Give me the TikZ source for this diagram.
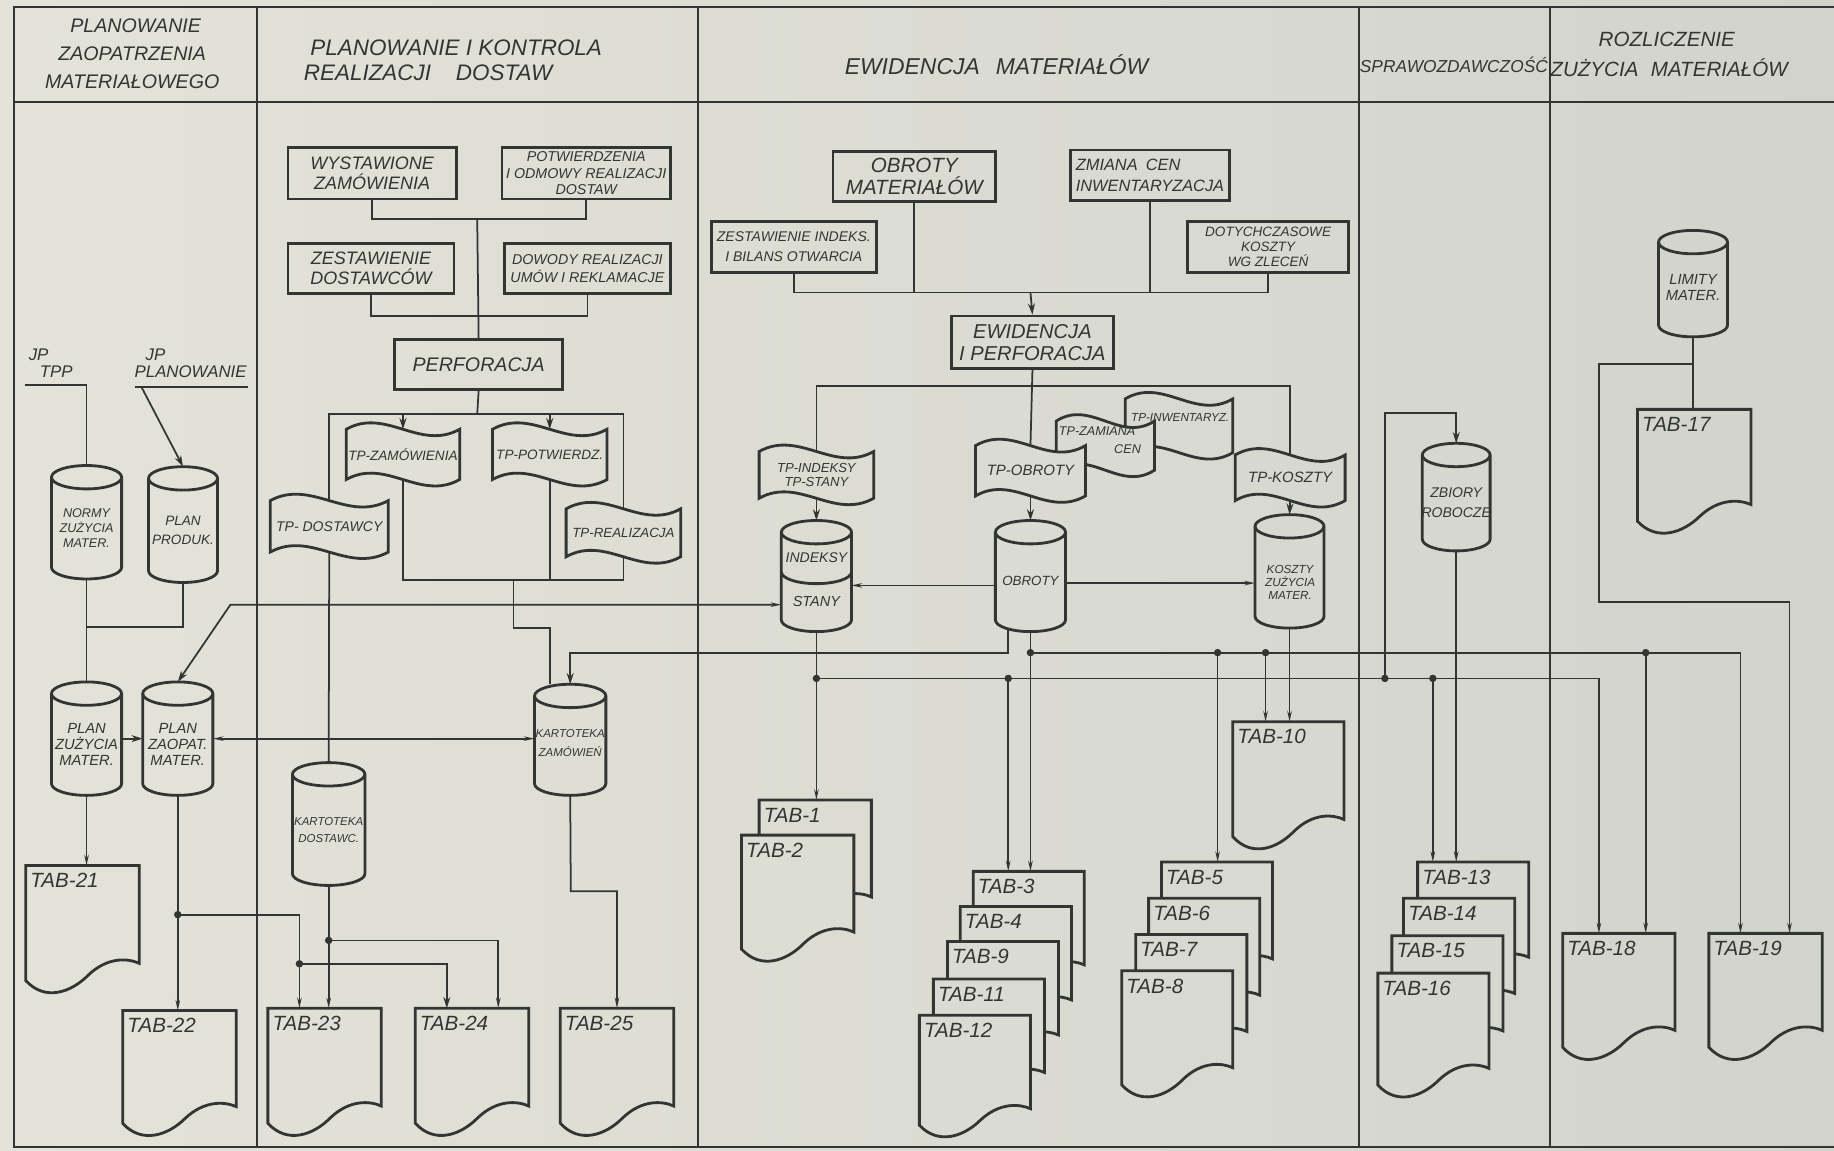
\documentclass[tikz,border=0pt]{standalone}
\usepackage{fontspec}
\setmainfont{Liberation Sans}
\usetikzlibrary{arrows.meta,calc}
\definecolor{ink}{RGB}{50,54,51}
\definecolor{bgL}{RGB}{228,227,217}
\definecolor{bgR}{RGB}{210,212,204}
\newcommand\tfnt[2]{\fontsize{#1pt}{#2pt}\selectfont\itshape}
\tikzset{
  cline/.style={draw=ink, line width=0.75pt},
  shapeline/.style={draw=ink, line width=1.2pt},
  borderline/.style={draw=ink, line width=0.9pt},
  bigarr/.style={-{Stealth[length=4.8pt,width=3pt]}},
  stubarr/.style={-{Stealth[length=4.5pt,width=1.9pt]}},
  bothstub/.style={{Stealth[length=4.5pt,width=1.9pt]}-{Stealth[length=4.5pt,width=1.9pt]}},
  stubbig/.style={{Stealth[length=4.5pt,width=1.9pt]}-{Stealth[length=4.8pt,width=3pt]}},
  jdot/.style={circle, fill=ink, draw=none, inner sep=0pt, minimum size=3.2pt},
  txt/.style={inner sep=0pt, outer sep=0pt, text=ink, align=center},
  procbox/.style={shapeline, rectangle, inner sep=0pt, anchor=north west, text=ink, align=center},
  boxsize/.style 2 args={minimum width=#1*0.5pt, minimum height=#2*0.5pt},
}
% cylinder: name, x, y, w, h
\newcommand{\cyl}[5]{%
  \pgfmathtruncatemacro\myPct{(#2+#4/2)/15.68}%
  \node[inner sep=0pt, outer sep=0pt, minimum width=#4*0.5pt, minimum height=#5*0.5pt, anchor=north west] (#1) at (#2,#3) {};%
  \draw[shapeline, fill=bgR!\myPct!bgL] (#2,{#3+10}) -- (#2,{#3+#5-10})
     arc[start angle=180, end angle=360, x radius=#4*0.25pt, y radius=5pt]
     -- ({#2+#4},{#3+10})
     arc[start angle=0, end angle=180, x radius=#4*0.25pt, y radius=5pt] -- cycle;%
  \draw[shapeline] (#2,{#3+10}) arc[start angle=180, end angle=360, x radius=#4*0.25pt, y radius=5pt];%
}
% punched tape: name, x, y, w, h
\newcommand{\tape}[5]{%
  \pgfmathtruncatemacro\myPct{(#2+#4/2)/15.68}%
  \node[inner sep=0pt, outer sep=0pt, minimum width=#4*0.5pt, minimum height=#5*0.5pt, anchor=north west] (#1) at (#2,#3) {};%
  \draw[shapeline, fill=bgR!\myPct!bgL] (#2,#3)
     .. controls ({#2+0.35*#4},{#3-19}) and ({#2+0.65*#4},{#3+19}) .. ({#2+#4},#3)
     -- ({#2+#4},{#3+#5})
     .. controls ({#2+0.65*#4},{#3+#5+19}) and ({#2+0.35*#4},{#3+#5-19}) .. (#2,{#3+#5}) -- cycle;%
}
% document: name, x, y, w, h, label
\newcommand{\docu}[6]{%
  \pgfmathtruncatemacro\myPct{(#2+#4/2)/15.68}%
  \node[inner sep=0pt, outer sep=0pt, minimum width=#4*0.5pt, minimum height=#5*0.37pt, anchor=north west] (#1) at (#2,#3) {};%
  \draw[shapeline, fill=bgR!\myPct!bgL] (#2,#3) -- ({#2+#4},#3) -- ({#2+#4},{#3+0.74*#5})
     .. controls ({#2+0.9*#4},{#3+0.70*#5}) and ({#2+0.72*#4},{#3+0.69*#5}) .. ({#2+0.55*#4},{#3+0.83*#5})
     .. controls ({#2+0.40*#4},{#3+0.96*#5}) and ({#2+0.17*#4},{#3+1.03*#5}) .. (#2,{#3+0.87*#5}) -- cycle;%
  \node[txt, anchor=west, font={\tfnt{8.8}{9}}] (#1l) at ({#2+4},{#3+13}) {#6};%
}
\begin{document}
\begin{tikzpicture}[x=0.5pt,y=-0.5pt]
\useasboundingbox (0,0) rectangle (1568,984);
\shade[left color=bgL, right color=bgR] (0,0) rectangle (1568,984);
% frame
\draw[borderline] (1568,6) -- (12,6) -- (12,981) -- (1568,981);
\draw[borderline] (12,87) -- (1568,87);
\draw[borderline] (220,6) -- (220,981);
\draw[borderline] (597,6) -- (597,981);
\draw[borderline] (1162,6) -- (1162,981);
\draw[borderline] (1325,6) -- (1325,981);
% headers
\node[txt, font={\tfnt{8.4}{9}}] (h1a) at (116,22) {PLANOWANIE};
\node[txt, font={\tfnt{8.4}{9}}] (h1b) at (113,46) {ZAOPATRZENIA};
\node[txt, font={\tfnt{8.4}{9}}] (h1c) at (113,70) {MATERIAŁOWEGO};
\node[txt, font={\tfnt{9.6}{10}}] (h2a) at (390,41) {PLANOWANIE I KONTROLA};
\node[txt, font={\tfnt{9.6}{10}}] (h2b) at (366,62) {REALIZACJI\hspace{1.1em}DOSTAW};
\node[txt, font={\tfnt{9.8}{10}}] (h3) at (852,55) {EWIDENCJA\hspace{0.7em}MATERIAŁÓW};
\node[txt, font={\tfnt{7.4}{8}}] (h4) at (1243,55) {SPRAWOZDAWCZOŚĆ};
\node[txt, font={\tfnt{8.8}{9}}] (h5a) at (1425,34) {ROZLICZENIE};
\node[txt, font={\tfnt{8.8}{9}}] (h5b) at (1427,58) {ZUŻYCIA\hspace{0.6em}MATERIAŁÓW};

% ---------- column 1 ----------
\node[txt, font={\tfnt{7.2}{8}}] (jp1) at (33,303) {JP};
\node[txt, font={\tfnt{7.2}{8}}] (tpp) at (48,318) {TPP};
\node[txt, font={\tfnt{7.2}{8}}] (jp2) at (133,303) {JP};
\node[txt, font={\tfnt{7.2}{8}}] (plw) at (163,318) {PLANOWANIE};
\coordinate (jpA) at (21,329);
\coordinate (jpB) at (212,331);
\coordinate (jpU) at (115,331);
\coordinate (jpC) at (121,331);
\cyl{normy}{44}{398}{60}{97}
\cyl{pprod}{127}{399}{59}{99}
\cyl{pzu}{44}{583}{60}{97}
\cyl{pzap}{122}{583}{60}{97}
\node[txt, font={\tfnt{5.4}{6.4}}] (normyl) at ($(normy)+(0,5)$) {NORMY\\ZUŻYCIA\\MATER.};
\node[txt, font={\tfnt{5.8}{8}}] (pprodl) at ($(pprod)+(0,5)$) {PLAN\\PRODUK.};
\node[txt, font={\tfnt{6.3}{6.8}}] (pzul) at ($(pzu)+(0,5)$) {PLAN\\ZUŻYCIA\\MATER.};
\node[txt, font={\tfnt{6.3}{6.8}}] (pzapl) at ($(pzap)+(0,5)$) {PLAN\\ZAOPAT.\\MATER.};
\docu{t21}{22}{740}{97}{113}{TAB-21}
\docu{t22}{105}{864}{97}{111}{TAB-22}

% ---------- column 2 ----------
\node[procbox, boxsize={144}{44}, font={\tfnt{7.7}{8.6}}] (wz) at (245,125) {WYSTAWIONE\\ZAMÓWIENIA};
\node[procbox, boxsize={144}{44}, font={\tfnt{6.1}{7}}] (pot) at (428,125) {POTWIERDZENIA\\I ODMOWY REALIZACJI\\DOSTAW};
\node[procbox, boxsize={142}{43}, font={\tfnt{7.7}{8.6}}] (zd) at (245,207) {ZESTAWIENIE\\DOSTAWCÓW};
\node[procbox, boxsize={142}{43}, font={\tfnt{6.1}{8}}] (dow) at (430,207) {DOWODY REALIZACJI\\UMÓW I REKLAMACJE};
\node[procbox, boxsize={144}{43}, font={\tfnt{8.4}{9}}] (perf) at (336,289) {PERFORACJA};
\tape{tzam}{296}{367}{97}{43}
\tape{tpot}{421}{367}{98}{43}
\tape{tdos}{231}{428}{101}{44}
\tape{treal}{484}{435}{98}{41}
\node[txt, font={\tfnt{5.8}{6}}] (tzaml) at (tzam) {TP-ZAMÓWIENIA};
\node[txt, font={\tfnt{5.8}{6}}] (tpotl) at (tpot) {TP-POTWIERDZ.};
\node[txt, font={\tfnt{6}{6}}] (tdosl) at (tdos) {TP- DOSTAWCY};
\node[txt, font={\tfnt{5.7}{6}}] (treall) at (treal) {TP-REALIZACJA};
\cyl{kdos}{250}{652}{62}{105}
\cyl{kzam}{457}{585}{61}{95}
\node[txt, font={\tfnt{4.9}{7.5}}] (kdosl) at ($(kdos)+(0,5)$) {KARTOTEKA\\DOSTAWC.};
\node[txt, font={\tfnt{4.9}{8}}] (kzaml) at ($(kzam)+(0,3)$) {KARTOTEKA\\ZAMÓWIEŃ};
\docu{t23}{229}{862}{97}{113}{TAB-23}
\docu{t24}{355}{862}{97}{113}{TAB-24}
\docu{t25}{479}{862}{97}{113}{TAB-25}

% ---------- column 3 ----------
\node[procbox, boxsize={139}{43}, font={\tfnt{8.8}{9.4}}] (obm) at (711,128) {OBROTY\\MATERIAŁÓW};
\node[procbox, boxsize={136}{43}, font={\tfnt{7}{9}}, align=left] (zc) at (914,127) {ZMIANA\hspace{0.5em}CEN\\INWENTARYZACJA};
\node[procbox, boxsize={141}{44}, font={\tfnt{6}{8.5}}] (zi) at (607,188) {ZESTAWIENIE INDEKS.\\I BILANS OTWARCIA};
\node[procbox, boxsize={138}{44}, font={\tfnt{5.8}{6.3}}] (dotk) at (1014,188) {DOTYCHCZASOWE\\KOSZTY\\WG ZLECEŃ};
\node[procbox, boxsize={139}{45}, font={\tfnt{8.6}{9.6}}] (ewid) at (812,269) {EWIDENCJA\\I PERFORACJA};
\tape{tinw}{962}{341}{92}{46}
\tape{tzc}{903}{360}{84}{42}
\tape{tobr}{834}{381}{94}{43}
\tape{tkos}{1056}{389}{94}{39}
\tape{tind}{649}{386}{98}{40}
\node[txt, font={\tfnt{5}{6}}] (tinwl) at (1009,357) {TP-INWENTARYZ.};
\node[txt, font={\tfnt{5.4}{6}}] (tzcl) at (938,369) {TP-ZAMIANA};
\node[txt, font={\tfnt{5.4}{6}}] (tzcl2) at (964,384) {CEN};
\node[txt, font={\tfnt{6.4}{6.5}}] (tobrl) at (tobr) {TP-OBROTY};
\node[txt, font={\tfnt{6.4}{6.5}}] (tkosl) at (tkos) {TP-KOSZTY};
\node[txt, font={\tfnt{5.6}{6}}] (tindl) at (tind) {TP-INDEKSY\\TP-STANY};
\cyl{ind}{668}{445}{60}{95}
\draw[shapeline] (668,489) arc[start angle=180, end angle=360, x radius=15pt, y radius=5pt];
\cyl{obr}{851}{445}{60}{95}
\cyl{kosz}{1073}{440}{59}{97}
\node[txt, font={\tfnt{6}{6}}] (indl1) at (698,477) {INDEKSY};
\node[txt, font={\tfnt{6.2}{6}}] (indl2) at (698,514) {STANY};
\node[txt, font={\tfnt{5.7}{6}}] (obrl) at (881,497) {OBROTY};
\node[txt, font={\tfnt{5}{5.6}}] (koszl) at (1103,498) {KOSZTY\\ZUŻYCIA\\MATER.};
\docu{t1}{649}{684}{96}{112}{TAB-1}
\docu{t2}{634}{714}{96}{112}{TAB-2}
\docu{t10}{1054}{617}{95}{113}{TAB-10}
\docu{t3}{832}{745}{95}{108}{TAB-3}
\docu{t4}{821}{775}{95}{108}{TAB-4}
\docu{t9}{810}{805}{95}{108}{TAB-9}
\docu{t11}{798}{837}{95}{108}{TAB-11}
\docu{t12}{786}{868}{95}{108}{TAB-12}
\docu{t5}{993}{737}{95}{112}{TAB-5}
\docu{t6}{982}{768}{95}{112}{TAB-6}
\docu{t7}{971}{799}{95}{112}{TAB-7}
\docu{t8}{959}{830}{95}{112}{TAB-8}

% ---------- column 4 ----------
\cyl{zb}{1216}{379}{58}{92}
\node[txt, font={\tfnt{6}{8.5}}] (zbl) at ($(zb)+(0,5)$) {ZBIORY\\ROBOCZE};
\docu{t13}{1212}{737}{95}{110}{TAB-13}
\docu{t14}{1200}{768}{95}{110}{TAB-14}
\docu{t15}{1190}{800}{95}{110}{TAB-15}
\docu{t16}{1178}{832}{95}{110}{TAB-16}

% ---------- column 5 ----------
\cyl{lim}{1418}{197}{59}{91}
\node[txt, font={\tfnt{6.3}{7}}] (liml) at ($(lim)+(0,3)$) {LIMITY\\MATER.};
\docu{t17}{1400}{350}{97}{110}{TAB-17}
\docu{t18}{1336}{798}{96}{112}{TAB-18}
\docu{t19}{1461}{798}{97}{112}{TAB-19}

% ================= connectors =================
% column 1
\draw[cline] (jpA) -| (normy.north);
\draw[cline] (jpB) -- (jpU);
\draw[cline, bigarr] (jpC) -- (pprod.north);
\coordinate (nj) at (74,536);
\draw[cline] (normy.south) -- (nj) -- (pzu.north);
\draw[cline] (pprod.south) |- (nj);
\draw[cline, bigarr] (pzu.east) -- (pzap.west);
\draw[cline, bothstub] (pzap.east) -- (pzap.east -| kzam.west);
\draw[cline, stubarr] (pzu.south) -- (pzu.south |- t21.north);
\draw[cline, stubarr] (pzap.south) -- (pzap.south |- t22.north);
\coordinate (j22) at (152,782);
\node[jdot] (d22) at (j22) {};
\draw[cline, stubarr] (j22) -| ($(t23.north west)+(27,0)$);
\coordinate (j23) at (256,824);
\node[jdot] (d23) at (j23) {};
\draw[cline, bigarr] (j23) -| ($(t24.north west)+(27,0)$);
\draw[cline, stubarr] (kdos.south) -- (kdos.south |- t23.north);
\coordinate (j23b) at (281,804);
\node[jdot] (d23b) at (j23b) {};
\draw[cline, stubarr] (j23b) -| ($(t24.north west)+(71,0)$);
\coordinate (k25) at (488,762);
\draw[cline, stubarr] (kzam.south) -- (k25) -| (t25.north);

% column 2
\coordinate (b1) at (408,187);
\coordinate (b2) at (408,270);
\coordinate (b3) at (408,354);
\coordinate (b4) at (439,496);
\coordinate (kzA) at (470,537);
\draw[cline] (wz.south) |- (b1) -| (pot.south);
\draw[cline] (b1) -- (perf.north);
\draw[cline] (zd.south) |- (b2) -| (dow.south);
\draw[cline] (perf.south) -- (b3);
\draw[cline] (tdos.north) |- (b3) -| (treal.north);
\draw[cline, bigarr] (tzam.north |- b3) -- (tzam.north);
\draw[cline, bigarr] (tpot.north |- b3) -- (tpot.north);
\draw[cline] (tzam.south) |- (b4) -| (treal.south);
\draw[cline] (tpot.south) -- (tpot.south |- b4);
\draw[cline] (b4) |- (kzA) -- (kzA |- kzam.north);
\draw[cline] (tdos.south) -- (kdos.north);

% column 3 top
\coordinate (tb) at (881,250);
\draw[cline] (zi.south) |- (tb) -| (dotk.south);
\draw[cline] (obm.south) -- (obm.south |- tb);
\draw[cline] (zc.south) -- (zc.south |- tb);
\draw[cline, bigarr] (tb) -- (ewid.north);
\coordinate (eb) at (881,330);
\draw[cline] (ewid.south) -- (tobr.north);
\draw[cline] (tind.north) |- (eb) -| (tkos.north);
\draw[cline, bigarr] (tind.south) -- (ind.north);
\draw[cline, bigarr] (tobr.south) -- (obr.north);
\draw[cline, bigarr] (tkos.south) -- (kosz.north);
\draw[cline, stubarr] ($(obr.west)+(0,8)$) -- ($(ind.east)+(0,8)$);
\coordinate (ok1) at ($(obr.east)+(0,6)$);
\draw[cline, stubarr] (ok1) -- (ok1 -| kosz.west);
\coordinate (dg) at (197,517);
\draw[cline, stubbig] (dg -| ind.west) -- (dg) -- (pzap.north);

% column 3 bottom buses
\coordinate (ob1) at (862,558);
\draw[cline, bigarr] ($(obr.south)+(-19,-2)$) |- (ob1) -| (kzam.north);
\coordinate (jU) at (881,558);
\node[jdot] (dU) at (jU) {};
\draw[cline, stubarr] (obr.south) -- (obr.south |- t3.north);
\coordinate (uEnd) at (1488,558);
\draw[cline, stubarr] (jU) -- (uEnd) -- (uEnd |- t19.north);
\coordinate (u5) at (1041,558);
\node[jdot] (du5) at (u5) {};
\draw[cline, stubarr] (u5) -- (u5 |- t5.north);
\coordinate (u10) at (1082,558);
\node[jdot] (du10) at (u10) {};
\draw[cline, stubarr] (u10) -- (u10 |- t10.north);
\coordinate (u18) at (1407,558);
\node[jdot] (du18) at (u18) {};
\draw[cline, stubarr] (u18) -- (u18 |- t18.north);
\draw[cline, stubarr] (kosz.south) -- (kosz.south |- t10.north);
\coordinate (jL) at (698,580);
\node[jdot] (dL) at (jL) {};
\draw[cline, stubarr] (ind.south) -- (ind.south |- t1.north);
\coordinate (lEnd) at (1367,580);
\draw[cline, stubarr] (jL) -- (lEnd) -- (lEnd |- t18.north);
\coordinate (l3) at (862,580);
\node[jdot] (dl3) at (l3) {};
\draw[cline, stubarr] (l3) -- (l3 |- t3.north);
\coordinate (l13) at (1225,580);
\node[jdot] (dl13) at (l13) {};
\draw[cline, stubarr] (l13) -- (l13 |- t13.north);
\coordinate (zl) at (1184,580);
\node[jdot] (dzl) at (zl) {};
\coordinate (zt) at (1184,353);
\draw[cline, bigarr] (zl) -- (zt) -| (zb.north);
\draw[cline, stubarr] (zb.south) -- (zb.south |- t13.north);

% column 5
\draw[cline] (lim.south) -- (lim.south |- t17.north);
\coordinate (lj) at (1447.5,311);
\coordinate (lp1) at (1367,515);
\draw[cline, stubarr] (lj) -| (lp1) -| ($(t19.north west)+(69,0)$);
\end{tikzpicture}
\end{document}
